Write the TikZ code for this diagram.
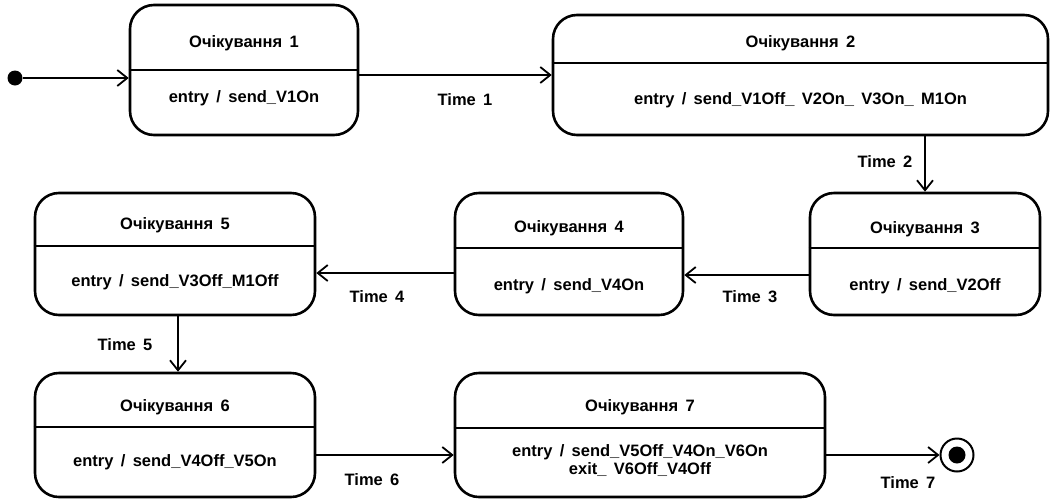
\documentclass[tikz,border=0pt]{standalone}
\usepackage{fontspec}
\setmainfont{Liberation Sans}[WordSpace=1.6]
\usetikzlibrary{arrows.meta}

\begin{document}
\begin{tikzpicture}[x=1pt,y=-1pt,
  statebox/.style={draw, line width=2.6pt, rounded corners=24pt, inner sep=0pt},
  divider/.style={line width=1.8pt},
  lbl/.style={font=\fontsize{16.5}{18}\selectfont\bfseries, inner sep=0pt, align=center},
  flow/.style={line width=1.8pt, -{Straight Barb[length=10pt,width=16pt,line width=1.8pt]}}
]
\useasboundingbox (0,0) rectangle (1056,501);

% ---- states ----
\node[statebox, minimum width=228pt, minimum height=130pt] (s1) at (244,70) {};
\coordinate (d1) at (0,70);
\draw[divider] (s1.west |- d1) -- (s1.east |- d1);
\node[lbl] (t1) at (244,43) {Очікування 1};
\node[lbl] (b1) at (244,98) {entry / send\_V1On};

\node[statebox, minimum width=495pt, minimum height=120pt] (s2) at (800.5,75) {};
\coordinate (d2) at (0,63);
\draw[divider] (s2.west |- d2) -- (s2.east |- d2);
\node[lbl] (t2) at (800.5,43) {Очікування 2};
\node[lbl] (b2) at (800.5,100) {entry / send\_V1Off\_ V2On\_ V3On\_ M1On};

\node[statebox, minimum width=230pt, minimum height=122pt] (s3) at (925,254) {};
\coordinate (d3) at (0,248);
\draw[divider] (s3.west |- d3) -- (s3.east |- d3);
\node[lbl] (t3) at (925,229) {Очікування 3};
\node[lbl] (b3) at (925,286) {entry / send\_V2Off};

\node[statebox, minimum width=228pt, minimum height=122pt] (s4) at (569,254) {};
\coordinate (d4) at (0,248);
\draw[divider] (s4.west |- d4) -- (s4.east |- d4);
\node[lbl] (t4) at (569,228) {Очікування 4};
\node[lbl] (b4) at (569,286) {entry / send\_V4On};

\node[statebox, minimum width=280pt, minimum height=122pt] (s5) at (175,254) {};
\coordinate (d5) at (0,246);
\draw[divider] (s5.west |- d5) -- (s5.east |- d5);
\node[lbl] (t5) at (175,225) {Очікування 5};
\node[lbl] (b5) at (175,282) {entry / send\_V3Off\_M1Off};

\node[statebox, minimum width=280pt, minimum height=124pt] (s6) at (175,435) {};
\coordinate (d6) at (0,427);
\draw[divider] (s6.west |- d6) -- (s6.east |- d6);
\node[lbl] (t6) at (175,407) {Очікування 6};
\node[lbl] (b6) at (175,462) {entry / send\_V4Off\_V5On};

\node[statebox, minimum width=370pt, minimum height=124pt] (s7) at (640,435) {};
\coordinate (d7) at (0,428);
\draw[divider] (s7.west |- d7) -- (s7.east |- d7);
\node[lbl] (t7) at (640,407) {Очікування 7};
\node[lbl] (b7) at (640,452) {entry / send\_V5Off\_V4On\_V6On};
\node[lbl] (x7) at (640,470) {exit\_ V6Off\_V4Off};

% ---- pseudo states ----
\node[circle, fill, minimum size=15pt, inner sep=0pt] (init) at (15,78) {};
\node[circle, draw, line width=2pt, minimum size=33pt, inner sep=0pt] (fin) at (957,455) {};
\node[circle, fill, minimum size=17pt, inner sep=0pt] (fincore) at (fin) {};

% ---- transitions ----
\draw[flow] (init) -- (init -| s1.west);
\draw[flow] ([yshift=-5pt]s1.east) -- ([yshift=-5pt]s1.east -| s2.west);
\node[lbl] (l1) at (465,100) {Time 1};

\draw[flow] (s2.south -| s3.north) -- (s3.north);
\node[lbl] (l2) at (885,162) {Time 2};

\draw[flow] ([yshift=-21pt]s3.west) -- ([yshift=-21pt]s3.west -| s4.east);
\node[lbl] (l3) at (750,297) {Time 3};

\draw[flow] ([yshift=-19pt]s4.west) -- ([yshift=-19pt]s4.west -| s5.east);
\node[lbl] (l4) at (377,297) {Time 4};

\draw[flow] ([xshift=3pt]s5.south) -- ([xshift=3pt]s5.south |- s6.north);
\node[lbl] (l5) at (125,345) {Time 5};

\draw[flow] ([yshift=-20pt]s6.east) -- ([yshift=-20pt]s6.east -| s7.west);
\node[lbl] (l6) at (372,480) {Time 6};

\draw[flow] ([yshift=-20pt]s7.east) -- (fin);
\node[lbl] (l7) at (908,483) {Time 7};
\end{tikzpicture}
\end{document}
